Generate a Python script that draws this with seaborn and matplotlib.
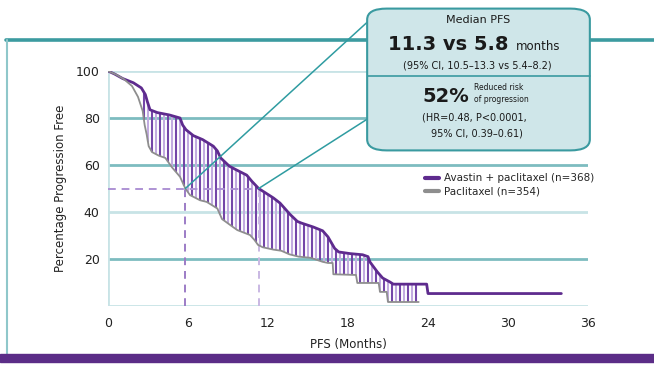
import numpy as np
import pandas as pd
import seaborn as sns
import matplotlib.pyplot as plt
from matplotlib.patches import FancyBboxPatch, ConnectionPatch
from matplotlib.lines import Line2D

# curve vertices (months, % progression free)
avastin_t = [0, 0.5, 1.1, 1.9, 2.5, 2.8, 2.95, 3.15, 3.7, 4.6, 5.4, 5.6, 5.85, 6.4, 7.1,
             7.9, 8.2, 8.45, 9.1, 9.6, 10.4, 10.8, 11.3, 12.4, 12.9, 13.65, 14.2, 14.5,
             15.4, 16.1, 16.5, 17.0, 17.3, 18.15, 19.1, 19.5, 19.65, 20.2, 20.6, 21.15,
             21.4, 23.9, 24.0, 34.0]
avastin_s = [100, 98.7, 96.8, 95, 92.8, 90, 87, 83.5, 82.3, 81.3, 80, 77, 75, 72.5, 70.8,
             68, 66, 63, 59.5, 58, 55.7, 53, 50, 46, 43.8, 39, 36, 35.3,
             33.6, 32, 29.4, 24.5, 23, 22.3, 21.8, 21, 18.7, 14.5, 11.9, 10.2,
             9.3, 9.3, 5.3, 5.3]

pacli_t = [0, 0.6, 1.2, 1.8, 2.25, 2.6, 2.75, 2.9, 3.05, 3.3, 3.8, 4.3, 4.8, 5.4, 5.8,
           6.15, 6.9, 7.4, 8.2, 8.55, 9.4, 9.7, 10.65, 11.0, 11.25, 11.6, 12.4, 13.0,
           13.6, 14.3, 15.2, 16.1, 16.5, 16.85, 16.9, 18.6, 18.7, 20.3, 20.4, 20.9,
           21.0, 23.3]
pacli_s = [100, 98.5, 96.5, 93.6, 89, 83, 77, 73, 68, 65.5, 64, 63, 59, 55, 50,
           47.2, 45, 44.3, 41.5, 37, 33.5, 32.3, 30.2, 28, 26, 25, 24, 23.5,
           22, 21, 20.5, 18.8, 18.3, 18.3, 13.5, 13.2, 9.8, 9.8, 6, 6,
           1.7, 1.7]

medians = [5.8, 11.3]
x_ticks = [0, 6, 12, 18, 24, 30, 36]
y_ticks = [20, 40, 60, 80, 100]
labels = ["Avastin + paclitaxel (n=368)", "Paclitaxel (n=354)"]

PURPLE = "#5e2b8e"
PURPLE_LIGHT = "#c2abe0"
PURPLE_MID = "#7446a8"
GRAY = "#8e8e8e"
TEAL = "#3c9ba0"
TEAL_GRID = "#7dbcc0"
TEAL_LIGHT = "#c8e3e6"

sns.set_theme(style="white")
plt.rcParams["font.family"] = ["Liberation Sans Narrow", "DejaVu Sans"]

W, H = 654, 367
fig = plt.figure(figsize=(W / 100, H / 100), dpi=100)
ax = fig.add_axes([108 / W, (H - 306) / H, 480 / W, 235 / H])

df = pd.concat([
    pd.DataFrame({"t": avastin_t, "s": avastin_s, "arm": labels[0]}),
    pd.DataFrame({"t": pacli_t, "s": pacli_s, "arm": labels[1]}),
])

# gridlines (alternating strong / light)
for y in [0, 20, 40, 60, 80, 100]:
    c = TEAL_GRID if y in (20, 60, 80) else TEAL_LIGHT
    ax.axhline(y, color=c, lw=2.0, zorder=0)
ax.axvline(0, color=TEAL_LIGHT, lw=2.0, zorder=0)

# hatching between the two curves
hx = np.arange(2.7, 23.3, 0.3)
top = np.interp(hx, avastin_t, avastin_s)
bot = np.interp(hx, pacli_t, pacli_s)
for k, (x, a, b) in enumerate(zip(hx, top, bot)):
    if a - b > 0.8:
        ax.vlines(x, b, a, color=PURPLE_MID if k % 2 == 0 else PURPLE_LIGHT,
                  lw=1.5, zorder=1)

# median dashed guides
ax.hlines(50, 0, medians[1], color="#ae93d4", lw=1.4, ls=(0, (4, 3)), zorder=1.5)
ax.vlines(medians[0], 0, 50, color="#9c7cc6", lw=1.4, ls=(0, (4, 3)), zorder=1.5)
ax.vlines(medians[1], 0, 50, color="#c9b8e3", lw=1.4, ls=(0, (4, 3)), zorder=1.5)

sns.lineplot(data=df, x="t", y="s", hue="arm", palette=[PURPLE, GRAY],
             estimator=None, sort=False, size="arm", sizes=[2.0, 1.3],
             legend=False, ax=ax, zorder=3)

ax.set_xlim(0, 36)
ax.set_ylim(0, 100)
ax.set_xticks(x_ticks)
ax.set_yticks(y_ticks)
ax.tick_params(axis="both", length=0, labelsize=9, colors="#222222")
ax.tick_params(axis="x", pad=8)
ax.tick_params(axis="y", pad=6)
for s in ax.spines.values():
    s.set_visible(False)
ax.set_xlabel("PFS (Months)", fontsize=8.5, color="#222222", labelpad=6)
ax.set_ylabel("Percentage Progression Free", fontsize=8.5, color="#222222", labelpad=6)
ax.patch.set_alpha(0)

handles = [Line2D([], [], color=PURPLE, lw=3), Line2D([], [], color=GRAY, lw=3)]
ax.legend(handles, labels, loc="center left", bbox_to_anchor=(0.64, 0.515), frameon=False,
          fontsize=7.5, handlelength=1.4, handletextpad=0.5, labelspacing=0.35)


def fx(px):
    return px / W


def fy(py):
    return (H - py) / H


# frame lines
fig.add_artist(Line2D([fx(6), fx(654)], [fy(40), fy(40)], color=TEAL, lw=2.6, zorder=0))
fig.add_artist(Line2D([fx(7), fx(7)], [fy(40), fy(355)], color="#8fc7ca", lw=1.5, zorder=0))
fig.add_artist(plt.Rectangle((0, fy(362)), 1, (362 - 354) / H, color="#5b2d87", zorder=0))

# callout connectors
for xm, (bx, by) in zip(medians, [(374, 16), (369, 118)]):
    fig.add_artist(ConnectionPatch(xyA=(xm, 50), coordsA=ax.transData,
                                   xyB=(fx(bx), fy(by)), coordsB=fig.transFigure,
                                   color="#2f9ca1", lw=1.1, zorder=4))

# info box
box = FancyBboxPatch((fx(375), fy(146)), fx(590 - 375 - 8), (146 - 13) / H,
                     boxstyle="round,pad=0.012,rounding_size=0.03",
                     transform=fig.transFigure, facecolor="#cfe6e9", edgecolor="#3a9aa0",
                     lw=1.5, zorder=5)
fig.add_artist(box)
fig.add_artist(Line2D([fx(368), fx(590)], [fy(76), fy(76)], color="#3a9aa0", lw=1.2, zorder=6))

txt = dict(transform=fig.transFigure, color="#1a1a1a", zorder=7, va="center")
fig.text(fx(478), fy(20), "Median PFS", ha="center", fontsize=8, **txt)
fig.text(fx(508), fy(45), "11.3 vs 5.8", ha="right", fontsize=14, fontweight="bold", **txt)
fig.text(fx(516), fy(47), "months", ha="left", fontsize=8.5, **txt)
fig.text(fx(477), fy(65), "(95% CI, 10.5\u201313.3 vs 5.4\u20138.2)", ha="center", fontsize=7, **txt)
fig.text(fx(469), fy(97), "52%", ha="right", fontsize=14, fontweight="bold", **txt)
fig.text(fx(474), fy(88), "Reduced risk", ha="left", fontsize=5.5, **txt)
fig.text(fx(474), fy(99), "of progression", ha="left", fontsize=5.5, **txt)
fig.text(fx(474), fy(118), "(HR=0.48, P<0.0001,", ha="center", fontsize=7, **txt)
fig.text(fx(477), fy(134), "95% CI, 0.39\u20130.61)", ha="center", fontsize=7, **txt)

fig.savefig("out.png", dpi=100)
